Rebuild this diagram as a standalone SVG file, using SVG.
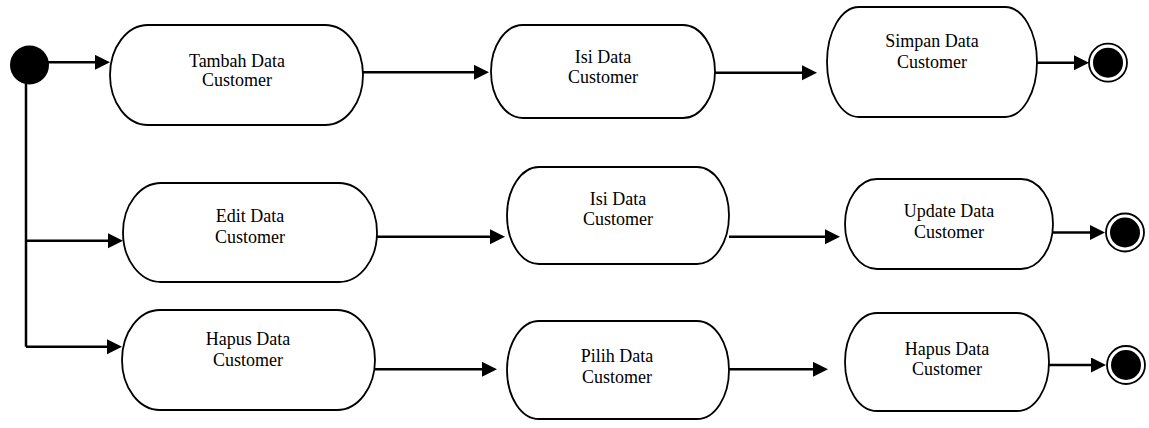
<svg xmlns="http://www.w3.org/2000/svg" width="1149" height="428" viewBox="0 0 1149 428">
<style>
.node rect{fill:#fff;stroke:#000;stroke-width:1.8}
.node text{font-family:'Liberation Serif','DejaVu Serif',serif;font-size:18px;fill:#000;text-anchor:middle}
.conn path{fill:none;stroke:#000;stroke-width:2.5}
.final .ring{fill:#fff;stroke:#000;stroke-width:1.8}
</style>
<defs>
<marker id="ah" markerUnits="userSpaceOnUse" markerWidth="16" markerHeight="16" refX="3" refY="7.5" orient="auto">
<path d="M0,0 L15,7.5 L0,15 z" fill="#000"/>
</marker>
</defs>
<g class="conn" id="connectors">
<path d="M47,62.3 H98" marker-end="url(#ah)"/>
<path d="M26,82 V346.7"/>
<path d="M26,240.7 H111" marker-end="url(#ah)"/>
<path d="M26,346.7 H110" marker-end="url(#ah)"/>
<path d="M363,72.3 H477" marker-end="url(#ah)"/>
<path d="M715,72.7 H805" marker-end="url(#ah)"/>
<path d="M1034,62.7 H1077" marker-end="url(#ah)"/>
<path d="M377,236.7 H493" marker-end="url(#ah)"/>
<path d="M729,236.7 H828" marker-end="url(#ah)"/>
<path d="M1049,232.5 H1093" marker-end="url(#ah)"/>
<path d="M375,369.3 H485" marker-end="url(#ah)"/>
<path d="M729,369.3 H816" marker-end="url(#ah)"/>
<path d="M1049,365 H1094" marker-end="url(#ah)"/>
</g>
<g id="start"><circle cx="29.5" cy="65" r="19.5" fill="#000"/></g>
<g class="node" id="tambah" font-family="Liberation Serif, serif"><rect x="110" y="25" width="253" height="100" rx="38" ry="50"/><text x="237" y="67">Tambah Data</text><text x="237" y="86">Customer</text></g>
<g class="node" id="isi1" font-family="Liberation Serif, serif"><rect x="491" y="25" width="224" height="93" rx="32" ry="46.5"/><text x="603" y="63">Isi Data</text><text x="603" y="83">Customer</text></g>
<g class="node" id="simpan" font-family="Liberation Serif, serif"><rect x="827" y="7" width="210" height="110" rx="32" ry="55"/><text x="932" y="47">Simpan Data</text><text x="932" y="68">Customer</text></g>
<g class="node" id="edit" font-family="Liberation Serif, serif"><rect x="123" y="183" width="254" height="99" rx="38" ry="49.5"/><text x="250" y="222">Edit Data</text><text x="250" y="243">Customer</text></g>
<g class="node" id="isi2" font-family="Liberation Serif, serif"><rect x="507" y="167" width="222" height="97" rx="32" ry="48.5"/><text x="618" y="205">Isi Data</text><text x="618" y="225">Customer</text></g>
<g class="node" id="update" font-family="Liberation Serif, serif"><rect x="845" y="179" width="208" height="90" rx="32" ry="45"/><text x="949" y="217">Update Data</text><text x="949" y="238">Customer</text></g>
<g class="node" id="hapus1" font-family="Liberation Serif, serif"><rect x="122" y="310" width="253" height="100" rx="38" ry="50"/><text x="248" y="345">Hapus Data</text><text x="248" y="366">Customer</text></g>
<g class="node" id="pilih" font-family="Liberation Serif, serif"><rect x="507" y="321" width="222" height="98" rx="32" ry="49"/><text x="617" y="362">Pilih Data</text><text x="617" y="383">Customer</text></g>
<g class="node" id="hapus2" font-family="Liberation Serif, serif"><rect x="845" y="313" width="204" height="98" rx="32" ry="49"/><text x="947" y="355">Hapus Data</text><text x="947" y="375">Customer</text></g>
<g class="final" id="end1"><circle class="ring" cx="1108" cy="62.7" r="19"/><circle cx="1108" cy="62.7" r="15" fill="#000"/></g>
<g class="final" id="end2"><circle class="ring" cx="1125" cy="232.5" r="19"/><circle cx="1125" cy="232.5" r="15" fill="#000"/></g>
<g class="final" id="end3"><circle class="ring" cx="1126" cy="365" r="19"/><circle cx="1126" cy="365" r="15" fill="#000"/></g>
</svg>
